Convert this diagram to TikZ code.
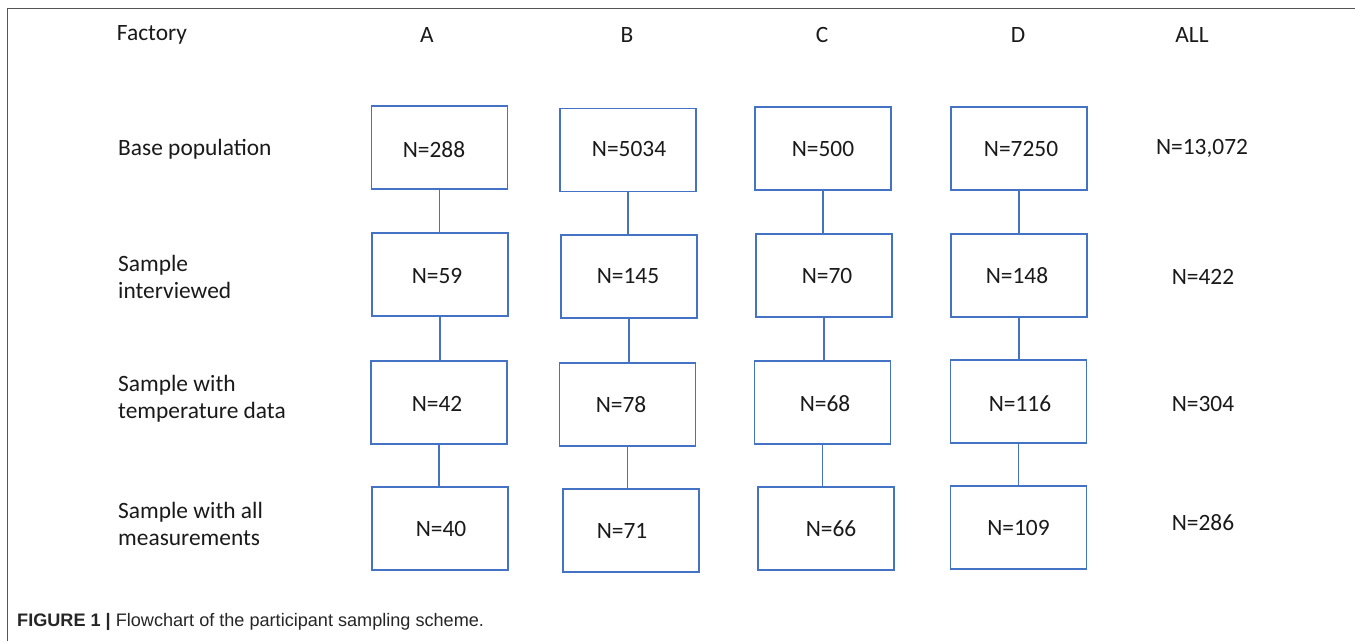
\documentclass[tikz,border=0pt]{standalone}
\usepackage{fontspec}
\setmainfont{Carlito}
\newfontfamily\capfont{Liberation Sans}
\definecolor{boxblue}{HTML}{4472C4}
\definecolor{framegray}{HTML}{555555}
\definecolor{txt}{HTML}{1A1A1A}
\begin{document}
\begin{tikzpicture}[x=1pt,y=-1pt,
  every node/.style={text=txt},
  bigfont/.style={font=\fontsize{23.4}{27}\selectfont},
  nbox/.style={draw=boxblue, line width=1.2pt, minimum width=136pt, minimum height=83pt, inner sep=0pt},
  link/.style={draw=boxblue, line width=1.2pt},
  hdr/.style={bigfont, inner sep=0pt},
  rowlab/.style={bigfont, anchor=west, align=left, inner sep=0pt},
  allval/.style={bigfont, inner sep=0pt},
  num/.style={bigfont, inner sep=0pt, text=txt}]
\useasboundingbox (0,0) rectangle (1355,641);
\fill[white] (0,0) rectangle (1355,641);
\draw[framegray, line width=1.5pt] (7.5,641) -- (7.5,8.5) -- (1355,8.5);
% headers
\node[hdr] (hF) at (152,35) {Factory};
\node[hdr] (hA) at (427,35) {A};
\node[hdr] (hB) at (627,35) {B};
\node[hdr] (hC) at (822,35) {C};
\node[hdr] (hD) at (1018,35) {D};
\node[hdr] (hAll) at (1192,35) {ALL};
% row labels
\node[rowlab] (r1) at (118,149) {Base population};
\node[rowlab] (r2) at (118,276.5) {Sample\\interviewed};
\node[rowlab] (r3) at (118,399) {Sample with\\temperature data};
\node[rowlab] (r4) at (118,523.5) {Sample with all\\measurements};
% boxes (label = number, shifted as in the reference)
\node[nbox, label={[num, name=tA1, xshift=-5.5pt, yshift=-2.5pt]center:N=288}] (A1) at (439.5,147.5) {};
\node[nbox, label={[num, name=tA2, xshift=-3pt, yshift=-1.5pt]center:N=59}] (A2) at (440,274.5) {};
\node[nbox, label={[num, name=tA3, xshift=-2pt, yshift=-1.5pt]center:N=42}] (A3) at (439,402.5) {};
\node[nbox, label={[num, name=tA4, xshift=1pt]center:N=40}] (A4) at (440,528.5) {};
\node[nbox, label={[num, name=tB1, xshift=1pt, yshift=1pt]center:N=5034}] (B1) at (628,150) {};
\node[nbox, label={[num, name=tB2, xshift=-1pt]center:N=145}] (B2) at (629,276.5) {};
\node[nbox, label={[num, name=tB3, xshift=-6.5pt]center:N=78}] (B3) at (627.5,404.5) {};
\node[nbox, label={[num, name=tB4, xshift=-9pt]center:N=71}] (B4) at (631,530.5) {};
\node[nbox, label={[num, name=tC1]center:N=500}] (C1) at (823,148.5) {};
\node[nbox, label={[num, name=tC2, xshift=3pt]center:N=70}] (C2) at (824,275.5) {};
\node[nbox, label={[num, name=tC3, xshift=2.5pt, yshift=-1.5pt]center:N=68}] (C3) at (822.5,402.5) {};
\node[nbox, label={[num, name=tC4, xshift=5pt]center:N=66}] (C4) at (826,528.5) {};
\node[nbox, label={[num, name=tD1, xshift=2pt]center:N=7250}] (D1) at (1019,148.5) {};
\node[nbox, label={[num, name=tD2, xshift=-2pt]center:N=148}] (D2) at (1019,275.5) {};
\node[nbox, label={[num, name=tD3, xshift=1.5pt, yshift=-2.5pt]center:N=116}] (D3) at (1018.5,401.5) {};
\node[nbox, label={[num, name=tD4]center:N=109}] (D4) at (1018.5,527.5) {};
% ALL column
\node[allval] (L1) at (1202,148) {N=13,072};
\node[allval] (L2) at (1203,277) {N=422};
\node[allval] (L3) at (1203,404) {N=304};
\node[allval] (L4) at (1203,523) {N=286};
% connectors
\foreach \c in {A,B,C,D}{
  \draw[link] (\c1.south) -- (\c1.south |- \c2.north);
  \draw[link] (\c2.south) -- (\c2.south |- \c3.north);
  \draw[link] (\c3.south) -- (\c3.south |- \c4.north);
}
% caption
\node[anchor=west, inner sep=0pt, text=black!85, font=\capfont\fontsize{18.1}{21}\selectfont] (cap) at (17,622) {\textbf{FIGURE 1 |} Flowchart of the participant sampling scheme.};
\end{tikzpicture}
\end{document}
